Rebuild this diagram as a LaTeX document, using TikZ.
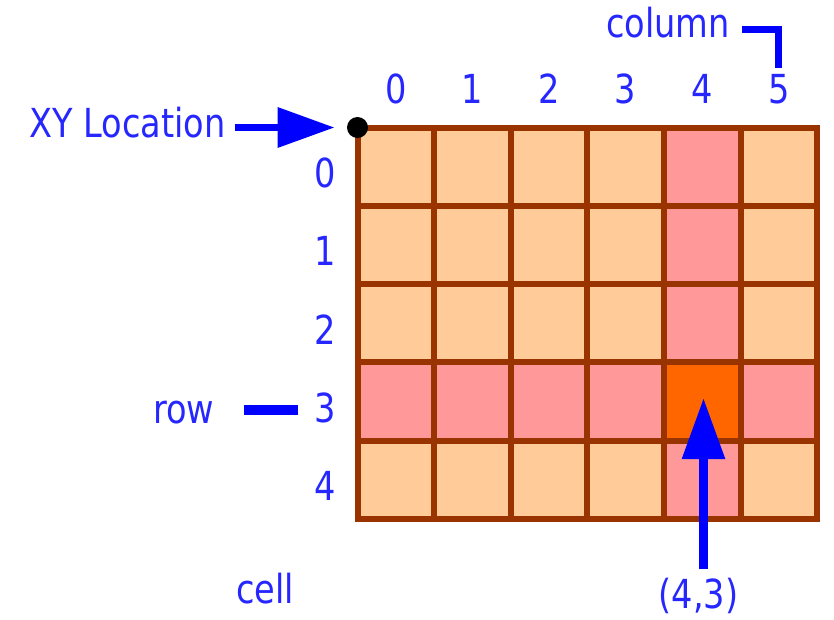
\documentclass[tikz,border=0pt]{standalone}
\usepackage{fontspec}
\setmainfont[FakeStretch=0.84]{DejaVu Sans}
\usetikzlibrary{arrows.meta, positioning}
\definecolor{cellpeach}{HTML}{FFCC99}
\definecolor{cellpink}{HTML}{FF9999}
\definecolor{cellorange}{HTML}{FF6600}
\definecolor{gridbrown}{HTML}{993300}
\definecolor{labelblue}{HTML}{0000FF}
\definecolor{textblue}{HTML}{2626FF}
\tikzset{
  % Texte
  lbl/.style={text=textblue, font=\fontsize{40}{48}\selectfont, inner sep=0pt},
  % Raster
  gridline/.style={gridbrown, line width=6pt, line cap=rect},
  % Pfeile und Hinweislinien
  pointer/.style={labelblue, line width=7pt, -{Triangle[length=57pt,width=39pt]}},
  uppointer/.style={labelblue, line width=9pt, -{Triangle[length=61pt,width=41pt]}},
  leader/.style={labelblue, line width=7pt}
}

\begin{document}
\begin{tikzpicture}[x=1pt,y=-1pt]
  \useasboundingbox (0,0) rectangle (834,619);
  % Raster mit 6 Spalten und 5 Zeilen
  \begin{scope}[shift={(357.5,127.5)}, x=76.6pt, y=-78.3pt]
    \fill[cellpeach] (0,0) rectangle (6,5);
    \fill[cellpink] (0,3) rectangle (6,4);
    \fill[cellpink] (4,0) rectangle (5,5);
    \fill[cellorange] (4,3) rectangle (5,4);
    \foreach \i in {0,...,6}
      \draw[gridline] (\i,0) -- (\i,5);
    \foreach \j in {0,...,5}
      \draw[gridline] (0,\j) -- (6,\j);
    % Spalten- und Zeilennummern
    \foreach \i in {0,...,5}
      \node[lbl] (col\i) at (\i+0.5,-0.49) {\i};
    \foreach \r in {0,...,4}
      \node[lbl] (row\r) at (-0.42,\r+0.58) {\r};
    \coordinate (xy) at (0,0);
    \coordinate (target) at (4.517,3.455);
    \fill[black] (xy) circle (10.5pt);
  \end{scope}
  % Beschriftungen
  \node[lbl, anchor=base west] (xyloc) at (29,137) {XY Location};
  \node[lbl, anchor=base west] (colname) at (606,37) {column};
  \node[lbl, anchor=base west] (rowname) at (153,423) {row};
  \node[lbl, anchor=base west] (cellname) at (236,603) {cell};
  \node[lbl, anchor=base] (coord) at (698.5,608) {(4,3)};
  % Verbindungen
  \draw[pointer] ([xshift=9pt]xyloc.east |- xy) -- ([xshift=-23pt]xy);
  \draw[leader] ([xshift=12pt,yshift=-7pt]colname.east) -| ([yshift=6pt]col5.north);
  \draw[leader, line width=10pt] ([xshift=29pt,yshift=2pt]rowname.east)
    -- ([xshift=-16pt,yshift=2pt]rowname.east -| row3.west);
  \draw[uppointer] ([yshift=8pt]coord.north -| target) -- (target);
\end{tikzpicture}
\end{document}
